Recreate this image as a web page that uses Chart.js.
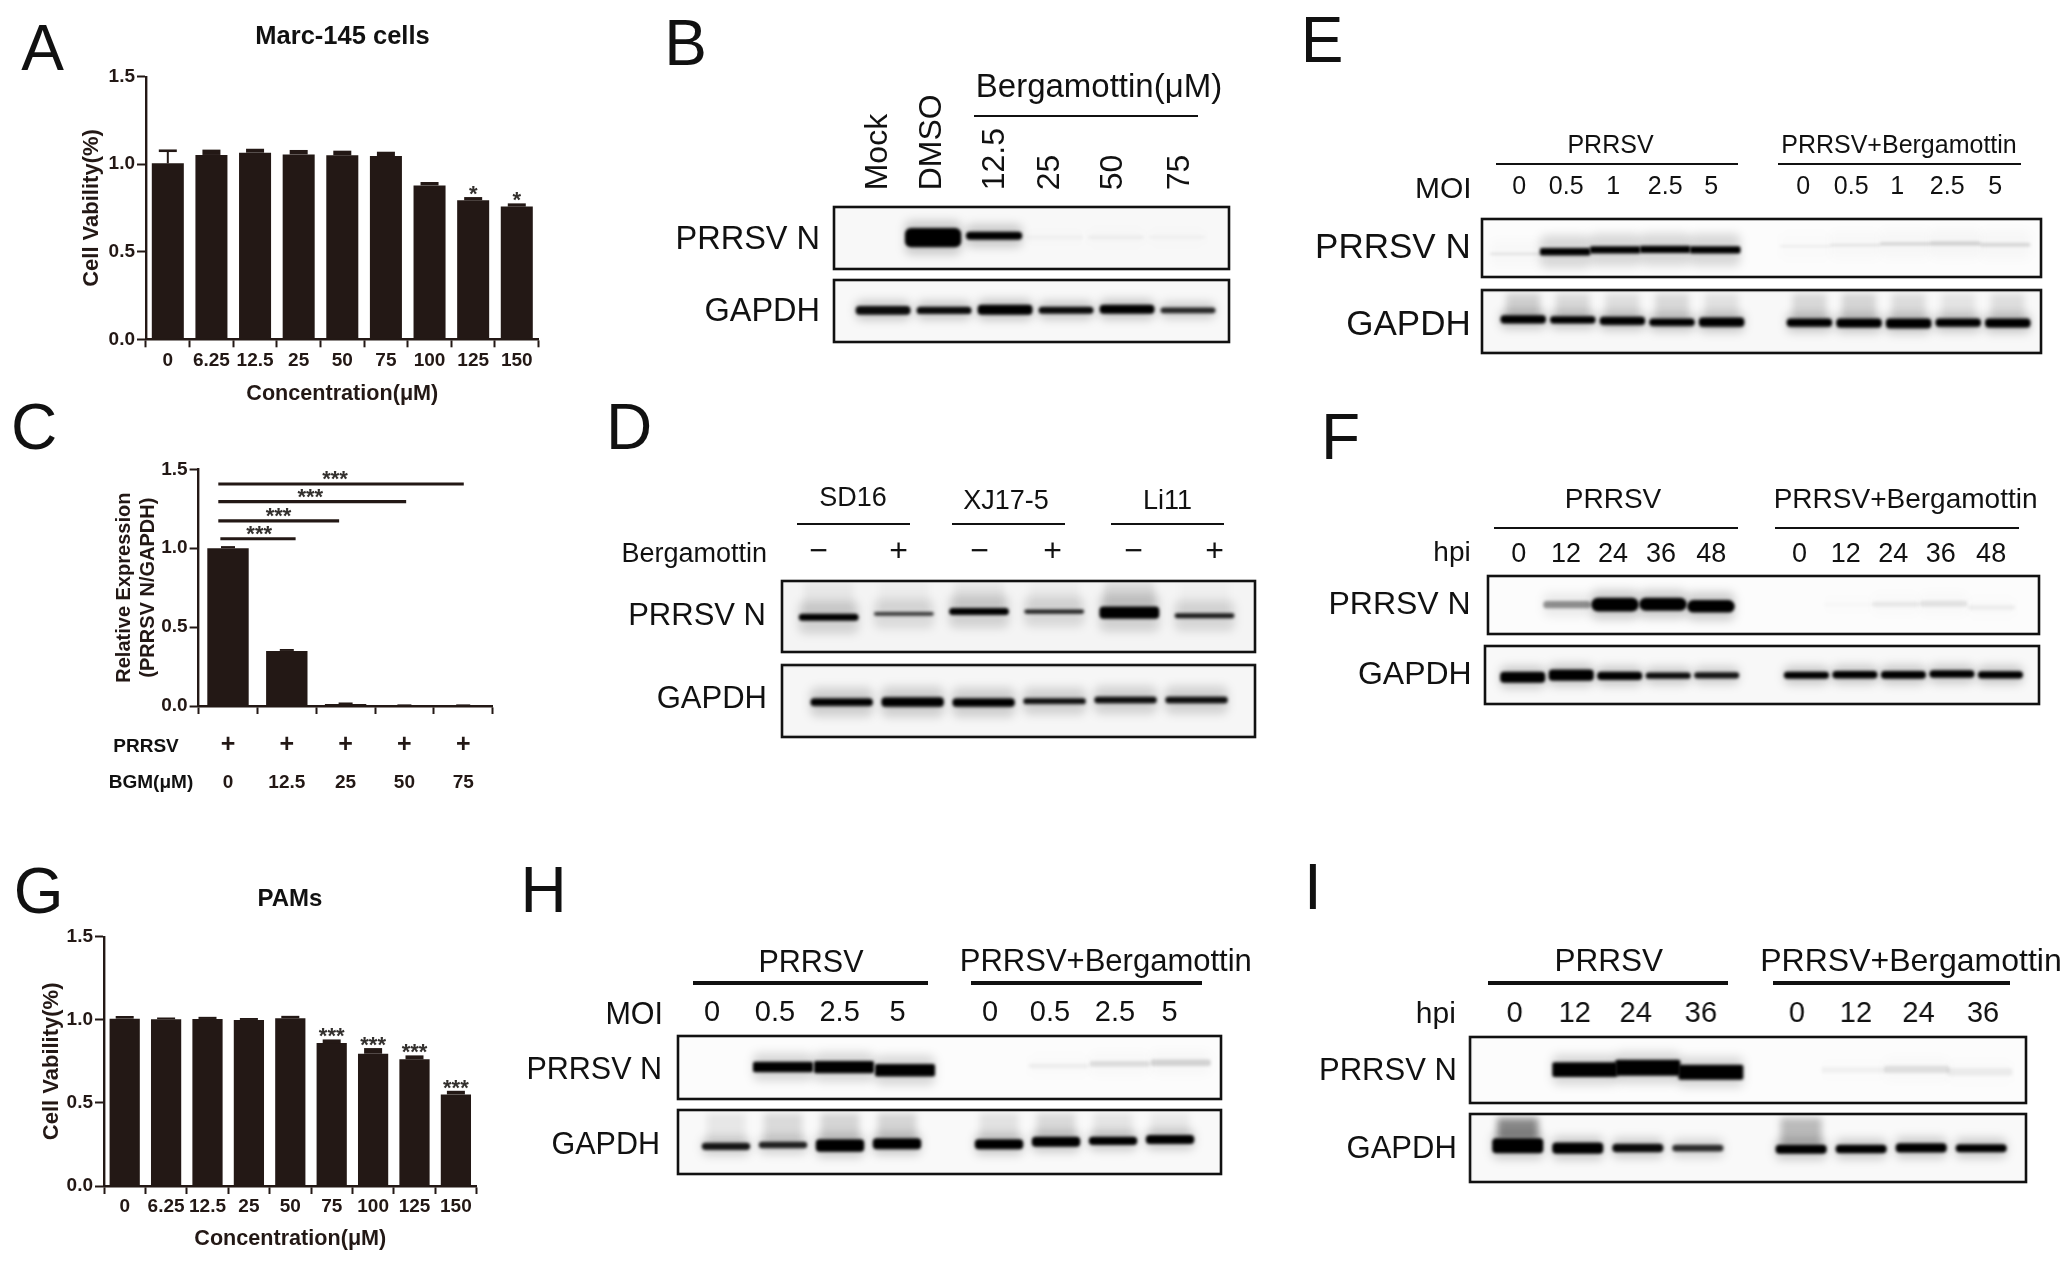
<!DOCTYPE html>
<html><head><meta charset="utf-8">
<script src="https://cdn.jsdelivr.net/npm/chart.js@4"></script>
<style>
html,body{margin:0;padding:0;background:#fff;width:2071px;height:1266px;overflow:hidden}
#root{position:absolute;left:0;top:0;width:2071px;height:1266px;filter:blur(.6px)}
canvas{position:absolute}
.t{position:absolute;white-space:nowrap;line-height:1;font-family:"Liberation Sans",Arial,sans-serif;color:#111}
.l{position:absolute;background:#111}
</style></head><body><div id="root"></div>
<script>
/* ---------- bar chart data ---------- */
const concLabels=['0','6.25','12.5','25','50','75','100','125','150'];
const bgmLabels=['0','12.5','25','50','75'];
const A_values=[1.005,1.053,1.066,1.056,1.051,1.047,0.879,0.794,0.758];
const A_upper=[1.077,1.076,1.081,1.074,1.07,1.064,0.891,0.805,0.769];
const A_stars=['','','','','','','','*','*'];
const C_values=[1.0,0.349,0.012,0.002,0.002];
const C_upper=[1.005,0.353,0.014,0.002,0.002];
const C_sigFrom=[-0.165,-0.165,-0.165,-0.13];
const C_sigTo=[4.01,3.03,1.89,1.15];
const C_sigLevel=[1.407,1.295,1.173,1.06];
const C_sigStarAt=[1.82,1.40,0.86,0.53];
const G_values=[1.007,1.003,1.005,0.999,1.009,0.86,0.796,0.762,0.551];
const G_upper=[1.015,1.006,1.01,1.003,1.016,0.874,0.822,0.778,0.565];
const G_stars=['','','','','','***','***','***','***'];

/* ---------- blot data: band extent (% of membrane height from top) and ink density per lane ---------- */
const B_lanes=['Mock','DMSO','12.5','25','50','75'];
const B_N_bands=[[48,49],[34,65],[40,53],[46,52],[46,52],[47,50]];
const B_N_ink=[0,1,1,.03,.04,.05];
const B_G_bands=[[42,56],[43,55],[40,56],[43,54.6],[40,54.6],[44.5,53.5]];
const B_G_ink=[.95,.95,1,.95,1,.82];

const D_lanes=['−','+','−','+','−','+'];
const D_N_bands=[[46,56],[43.5,49],[38,48],[40,46],[36,53],[45.5,52.5]];
const D_N_ink=[1,.75,1,.85,1,.88];
const D_N_smear=[.05,.03,.06,.03,.1,.02];
const D_G_bands=[[46.2,57],[44.8,58],[46.2,58],[46.2,54.2],[44,53.2],[44,53.2]];
const D_G_ink=[1,1,1,.95,.95,.95];

const E_lanes=['0','0.5','1','2.5','5','0','0.5','1','2.5','5'];
const E_N_bands=[[58,62],[50,63],[47,59.5],[46,58.6],[47,59.5],[45.3,48.7],[43,47],[40,45.5],[39,45.5],[41,48]];
const E_N_ink=[.1,1,1,1,1,.07,.1,.14,.16,.13];
const E_G_bands=[[39.9,53.2],[41.5,53.2],[42.5,55.8],[45.2,57.4],[43.6,58.5],[45.2,58.5],[45.2,59.6],[45.2,61],[45.2,58.5],[45.2,59.6]];
const E_G_ink=[1,1,1,1,1,1,1,1,1,1];
const E_G_smear=[.16,.12,.1,.12,.09,.13,.14,.11,.08,.1];

const F_lanes=['0','12','24','36','48','0','12','24','36','48'];
const F_N_bands=[[48,50],[43.2,55.7],[37.5,61.4],[37.5,59.7],[41.5,63.1],[48,50],[46,52],[44.3,52.9],[42.6,52.9],[50,58.5]];
const F_N_ink=[0,.4,1,1,1,0,.015,.07,.09,.05];
const F_G_bands=[[44.6,63.4],[40.5,60],[44.6,58.8],[45.7,56.6],[45.1,55.9],[44.6,56.6],[42.9,55.9],[42.9,56.6],[41.7,54.9],[43.4,55.9]];
const F_G_ink=[1,1,1,.95,.9,1,1,1,1,1];

const H_lanes=['0','0.5','2.5','5','0','0.5','2.5','5'];
const H_N_bands=[[48,50],[40.8,57.6],[39.8,59.2],[44.5,64.4],[48,50],[43.5,51.3],[39.8,48.7],[37.2,47.6]];
const H_N_ink=[0,1,1,1,0,.05,.11,.15];
const H_G_bands=[[51,62.5],[49.5,59.9],[45.8,65.1],[44.3,61.5],[45.8,61.5],[41.7,57.3],[41.7,54.7],[39,53.1]];
const H_G_ink=[.9,.85,1,1,1,1,1,1];
const H_G_smear=[.07,.12,.14,.14,.09,.12,.08,.06];

const I_lanes=['0','12','24','36','0','12','24','36'];
const I_N_bands=[[48,50],[38.4,60.7],[34.4,58.7],[42,64.7],[48,50],[45.5,54.6],[43.5,54.6],[47,58.7]];
const I_N_ink=[0,1,1,1,0,.04,.1,.06];
const I_G_bands=[[35.6,57.6],[42,58.6],[43.9,56.1],[45.4,55.2],[45.4,58.6],[45.4,57.6],[42.9,56.6],[44.4,56.1]];
const I_G_ink=[1,1,.95,.8,1,1,1,1];
const I_G_smear=[.45,0,0,0,.25,0,0,0];

/* ---------- annotation text ---------- */
const panelLetters=[['A',42.5,48],['B',685.5,42.7],['C',34,427],['D',629,426.7],['E',1322,39.7],['F',1340.5,436.7],['G',38.7,891],['H',543.6,890],['I',1313,887]];
const plainTexts=[
 ['Marc-145 cells',342.5,36,25.5,'c',700],['PAMs',290,898,24,'c',700],
 ['PRRSV',146,745,19,'c',700],['BGM(μM)',151,780.7,19,'c',700],
 ['Bergamottin(μM)',1099,85,33,'c',400],['PRRSV N',820,238,32.5,'r',400],['GAPDH',820,310,32.5,'r',400],
 ['SD16',853,497.3,27,'c',400],['XJ17-5',1006,500,27,'c',400],['Li11',1167.5,500,27,'c',400],
 ['Bergamottin',767,552.7,27,'r',400],['PRRSV N',766,614,31,'r',400],['GAPDH',767,697.3,31,'r',400],
 ['PRRSV',1610.5,144,25,'c',400],['PRRSV+Bergamottin',1899,144,25,'c',400],['MOI',1471.7,188,30,'r',400],
 ['PRRSV N',1470.7,245,35,'r',400],['GAPDH',1470.7,321.7,35,'r',400],
 ['PRRSV',1613,499.3,28,'c',400],['PRRSV+Bergamottin',1905.6,499.3,28,'c',400],['hpi',1470.7,551.7,28,'r',400],
 ['PRRSV N',1470.7,603.3,32,'r',400],['GAPDH',1471.7,673.3,32,'r',400],
 ['PRRSV',811,961,30.5,'c',400],['PRRSV+Bergamottin',1105.8,960,31,'c',400],['MOI',663,1012.7,30.5,'r',400],
 ['PRRSV N',662,1068,30.5,'r',400],['GAPDH',660,1143,30.5,'r',400],
 ['PRRSV',1608.7,961,31.5,'c',400],['PRRSV+Bergamottin',1911,960,32,'c',400],['hpi',1455.8,1013.3,30,'r',400],
 ['PRRSV N',1456.8,1069.3,31,'r',400],['GAPDH',1456.8,1147.3,31,'r',400]
];
const ruleLines=[[974,116,1198.4,2],[797,524,910,2],[952,524,1065.3,2],[1110.7,524,1224,2],
 [1496,164,1738,2.6],[1778,164,2020.7,2.6],[1494.4,527.7,1738,2],[1774.5,527.7,2019,2],
 [693,983,927.5,4],[970.7,983,1202.5,4],[1488,983.3,1728,4],[1773,983.3,2009.6,4]];

/* ---------- helpers ---------- */
const root=document.getElementById('root');
const FONT='"Liberation Sans",Arial,sans-serif';
const INK='#231815';
Chart.defaults.font.family=FONT;
function text(s,x,y,size,al,w){
  const d=document.createElement('div');d.className='t';d.textContent=s;
  d.style.fontSize=size+'px';d.style.fontWeight=w;d.style.top=y+'px';
  if(al==='r'){d.style.right=(2071-x)+'px';d.style.transform='translateY(-50%)';}
  else{d.style.left=x+'px';d.style.transform='translate(-50%,-50%)';}
  root.appendChild(d);
}
panelLetters.forEach(p=>text(p[0],p[1],p[2],64,'c',400));
plainTexts.forEach(p=>text(p[0],p[1],p[2],p[3],p[4],p[5]));
ruleLines.forEach(r=>{const d=document.createElement('div');d.className='l';
  d.style.left=r[0]+'px';d.style.top=(r[1]-r[3]/2)+'px';d.style.width=(r[2]-r[0])+'px';d.style.height=r[3]+'px';root.appendChild(d);});
function canvasAt(l,t,w,h){const c=document.createElement('canvas');c.width=w;c.height=h;
  c.style.left=l+'px';c.style.top=t+'px';c.style.width=w+'px';c.style.height=h+'px';root.appendChild(c);return c;}

/* bar charts */
const barDeco={id:'barDeco',afterDatasetsDraw(ch,a,o){
  const c=ch.ctx,x=ch.scales.x,y=ch.scales.y;c.save();
  c.strokeStyle=INK;c.fillStyle=INK;c.lineCap='butt';
  (o.upper||[]).forEach((u,i)=>{const px=x.getPixelForValue(i),pv=y.getPixelForValue(o.values[i]),pu=y.getPixelForValue(u);
    if(pv-pu<6){c.fillRect(px-o.cap/2,pu-1.3,o.cap,pv-pu+1.3);return;}
    c.lineWidth=2;c.beginPath();c.moveTo(px,pv);c.lineTo(px,pu);c.stroke();
    c.lineWidth=2.6;c.beginPath();c.moveTo(px-o.cap/2,pu);c.lineTo(px+o.cap/2,pu);c.stroke();});
  c.fillStyle='#33302e';c.font='bold 22px '+FONT;c.textAlign='center';c.textBaseline='alphabetic';
  (o.stars||[]).forEach((s,i)=>{if(s)c.fillText(s,x.getPixelForValue(i),y.getPixelForValue(o.upper[i])+2.5);});
  (o.sigFrom||[]).forEach((f,i)=>{const py=y.getPixelForValue(o.sigLevel[i]);
    c.lineWidth=3.2;c.beginPath();c.moveTo(x.getPixelForValue(f),py);c.lineTo(x.getPixelForValue(o.sigTo[i]),py);c.stroke();
    c.fillText('***',x.getPixelForValue(o.sigStarAt[i]),py+2);});
  if(o.row){c.fillStyle=INK;c.font='bold 25px '+FONT;c.textBaseline='middle';
    o.row.forEach((s,i)=>c.fillText(s,x.getPixelForValue(i),y.bottom+o.rowGap));}
  c.restore();
}};
function barChart(g,labels,values,deco){
  const tickFont={family:FONT,size:19,weight:'bold',lineHeight:g.tickLH||1.2};
  return new Chart(canvasAt(g.cl,g.ct,g.cr-g.cl,g.cb-g.ct),{type:'bar',
   data:{labels,datasets:[{data:values,backgroundColor:INK,barPercentage:g.bar,categoryPercentage:1,borderWidth:0}]},
   plugins:[barDeco],
   options:{responsive:false,animation:false,events:[],
    layout:{padding:{top:g.t-g.ct,right:g.cr-g.r,left:0,bottom:0}},
    plugins:{legend:{display:false},tooltip:{enabled:false},barDeco:deco},
    scales:{
     x:{grid:{drawOnChartArea:false,tickLength:8,tickWidth:2,tickColor:INK},border:{color:INK,width:2.4},
        ticks:{font:tickFont,color:INK,padding:g.xPad,maxRotation:0,minRotation:0,autoSkip:false},
        title:g.xTitle?{display:true,text:g.xTitle,color:INK,font:{family:FONT,size:21.6,weight:'bold'},padding:0}:{display:false},
        afterFit:s=>{s.height=g.cb-g.b;}},
     y:{min:0,max:1.5,grid:{drawOnChartArea:false,tickLength:9,tickWidth:2,tickColor:INK},border:{color:INK,width:2.4},
        ticks:{stepSize:.5,font:{family:FONT,size:19,weight:'bold'},color:INK,padding:2,callback:v=>v.toFixed(1)},
        title:{display:true,text:g.yTitle,color:INK,font:{family:FONT,size:g.ySize,weight:'bold'},padding:0},
        afterFit:s=>{s.width=g.l-g.cl;}}
    }}});
}
barChart({cl:79,ct:60,cr:545,cb:407,l:146,r:538.6,t:76.7,b:339.3,bar:.734,xPad:2,xTitle:'Concentration(μM)',yTitle:'Cell Vability(%)',ySize:22},
  concLabels,A_values,{values:A_values,upper:A_upper,stars:A_stars,cap:18});
barChart({cl:39,ct:920,cr:483,cb:1252,l:104,r:476.6,t:936.7,b:1186,bar:.73,xPad:1.2,xTitle:'Concentration(μM)',yTitle:'Cell Vability(%)',ySize:22},
  concLabels,G_values,{values:G_values,upper:G_upper,stars:G_stars,cap:18});
barChart({cl:112,ct:452,cr:500,cb:815,l:198.6,r:492.6,t:469.3,b:706,bar:.704,xPad:10.5,tickLH:39/19,yTitle:['Relative Expression','(PRRSV N/GAPDH)'],ySize:20},
  bgmLabels.map(s=>[' ',s]),C_values,{values:C_values,upper:C_upper,sigFrom:C_sigFrom,sigTo:C_sigTo,sigLevel:C_sigLevel,sigStarAt:C_sigStarAt,cap:14,
   row:bgmLabels.map(()=>'+'),rowGap:39});

/* blots: each membrane is a floating-bar chart on a lane scale, with each dataset softened */
const soften={id:'soften',
  beforeDraw(ch,a,o){const A=ch.chartArea,c=ch.ctx;c.save();c.fillStyle=o.bg;c.fillRect(A.left,A.top,A.right-A.left,A.bottom-A.top);c.restore();},
  beforeDatasetDraw(ch,a){ch.ctx.save();ch.ctx.filter='blur('+ch.data.datasets[a.index].softness+'px)';},
  afterDatasetDraw(ch){ch.ctx.restore();},
  afterDraw(ch,a,o){const A=ch.chartArea,c=ch.ctx;c.save();c.strokeStyle='#111';c.lineWidth=2.6;c.strokeRect(A.left,A.top,A.right-A.left,A.bottom-A.top);c.restore();}
};
function membrane(m,bands,ink,smear){
  const [l,t,r,b]=m.box,lab=m.labels,res=lab?m.reserve:3;
  const pts=(fn)=>m.lanes.map((x,i)=>({x,y:fn(bands[i])}));
  const rgba=k=>'rgba(0,0,0,'+k+')';
  const ds=[
   {data:pts(v=>v),backgroundColor:ink.map(rgba),barPercentage:m.bw||.9,categoryPercentage:1,borderRadius:m.radius===undefined?4:m.radius,borderSkipped:false,borderWidth:0,softness:m.core||1.5},
   {data:pts(v=>[v[0]-(m.hp||10),v[1]+(m.hp||10)]),backgroundColor:ink.map(k=>rgba(k*(m.hi===undefined?.22:m.hi))),barPercentage:(m.bw||.9),categoryPercentage:1,borderRadius:6,borderSkipped:false,borderWidth:0,softness:m.hb||5}
  ];
  if(smear)ds.push({data:pts(v=>[m.smearTop||6,v[0]+2]),backgroundColor:smear.map(rgba),barPercentage:.68,categoryPercentage:1,borderWidth:0,borderSkipped:false,softness:3.5});
  const x={type:'linear',offset:false,min:(l-m.x0)/m.step,max:(r-m.x0)/m.step,display:!!lab,position:'top'};
  if(lab){
    const vals=lab.px.map(p=>(p+(lab.rot?lab.size*1.03:0)-m.x0)/m.step);
    x.grid={display:false,drawTicks:false};x.border={display:false};
    x.afterBuildTicks=s=>{s.ticks=vals.map(value=>({value}));};
    x.afterFit=s=>{s.height=res;};
    x.ticks={autoSkip:false,color:'#111',padding:lab.rot?lab.pad:(t-lab.y-lab.size/2),maxRotation:lab.rot?90:0,minRotation:lab.rot?90:0,
      font:{family:FONT,size:lab.size,lineHeight:1},callback:(v,i)=>lab.text[i]};
  }
  return new Chart(canvasAt(l-6,t-res,r-l+12,res+b-t+4),{type:'bar',data:{datasets:ds},plugins:[soften],
    options:{responsive:false,animation:false,events:[],datasets:{bar:{grouped:false}},
     layout:{padding:{left:6,right:6,top:lab?0:3,bottom:4}},
     plugins:{legend:{display:false},tooltip:{enabled:false},soften:{bg:m.bg||'#f8f8f8'}},
     scales:{x,y:{display:false,min:0,max:100,reverse:true}}}});
}
const seq=(n,gapAt,start)=>Array.from({length:n},(_,i)=>i<gapAt?i:start+i-gapAt);

membrane({box:[833.9,206.7,1229,269.3],x0:872,step:61,lanes:seq(6,6,0),bw:1.03,hp:12,hi:.18,radius:6,
  labels:{px:[876.7,931.4,994,1049,1112,1179],text:B_lanes,size:32,rot:true,pad:16.7},reserve:125},B_N_bands,B_N_ink);
membrane({box:[833.9,280,1229,342.3],x0:883,step:61,lanes:seq(6,6,0),bw:.9,hp:9,hi:.2},B_G_bands,B_G_ink);

membrane({box:[782.3,581,1255.5,652.3],x0:829,step:75.2,lanes:seq(6,6,0),bw:.82,hp:18,hi:.14,bg:'#f4f4f4',smearTop:2,
  labels:{px:[819,899,980,1053,1134,1215],text:D_lanes,size:32,y:552},reserve:50},D_N_bands,D_N_ink,D_N_smear);
membrane({box:[782.3,665.3,1255.5,736.7],x0:842,step:71,lanes:seq(6,6,0),bw:.88,hp:14,hi:.16,bg:'#f6f6f6'},D_G_bands,D_G_ink);

membrane({box:[1481.8,219.3,2040.8,277.3],x0:1515,step:50,lanes:seq(10,5,5.8),bw:1.1,hp:22,hi:.14,bg:'#fcfcfc',radius:2,
  labels:{px:[1519,1566,1613,1665,1711,1803,1851,1897,1947,1995],text:E_lanes,size:25,y:187.3},reserve:50},E_N_bands,E_N_ink);
membrane({box:[1481.8,290,2040.8,352.7],x0:1523,step:49.6,lanes:seq(10,5,5.77),bw:.92,hp:8,hi:.2,bg:'#f8f8f8',smearTop:6},E_G_bands,E_G_ink,E_G_smear);

membrane({box:[1487.9,575.7,2039.3,634.3],x0:1519,step:48,lanes:seq(10,5,5.85),bw:1.03,hp:14,hi:.18,bg:'#fcfcfc',radius:8,
  labels:{px:[1518.6,1566,1613,1661,1711.4,1799.7,1846,1893.5,1941,1991.4],text:F_lanes,size:27,y:554},reserve:45},F_N_bands,F_N_ink);
membrane({box:[1485.3,645.7,2039.3,704],x0:1523,step:48.5,lanes:seq(10,5,5.85),bw:.93,hp:10,hi:.18,bg:'#f8f8f8'},F_G_bands,F_G_ink);

membrane({box:[678,1035.7,1221,1099.3],x0:722,step:61,lanes:seq(8,4,4.52),bw:1.1,hp:14,hi:.14,bg:'#fcfcfc',radius:2,
  labels:{px:[712,775,839.6,897.5,990,1050,1115,1169.6],text:H_lanes,size:29,y:1012.7},reserve:45},H_N_bands,H_N_ink);
membrane({box:[678,1110,1221,1174],x0:726,step:57,lanes:seq(8,4,4.79),bw:.85,hp:9,hi:.18,bg:'#f9f9f9',smearTop:5},H_G_bands,H_G_ink,H_G_smear);

membrane({box:[1470.3,1037.3,2026,1103.3],x0:1522,step:63,lanes:seq(8,4,4.27),bw:1.1,hp:12,hi:.14,bg:'#fcfcfc',radius:2,
  labels:{px:[1515,1575,1636,1701,1797,1856,1918.5,1983],text:I_lanes,size:29,y:1014},reserve:45},I_N_bands,I_N_ink);
membrane({box:[1470.3,1114,2026,1182.3],x0:1518,step:60,lanes:seq(8,4,4.72),bw:.85,hp:9,hi:.18,bg:'#f9f9f9',smearTop:6},I_G_bands,I_G_ink,I_G_smear);
</script></body></html>
